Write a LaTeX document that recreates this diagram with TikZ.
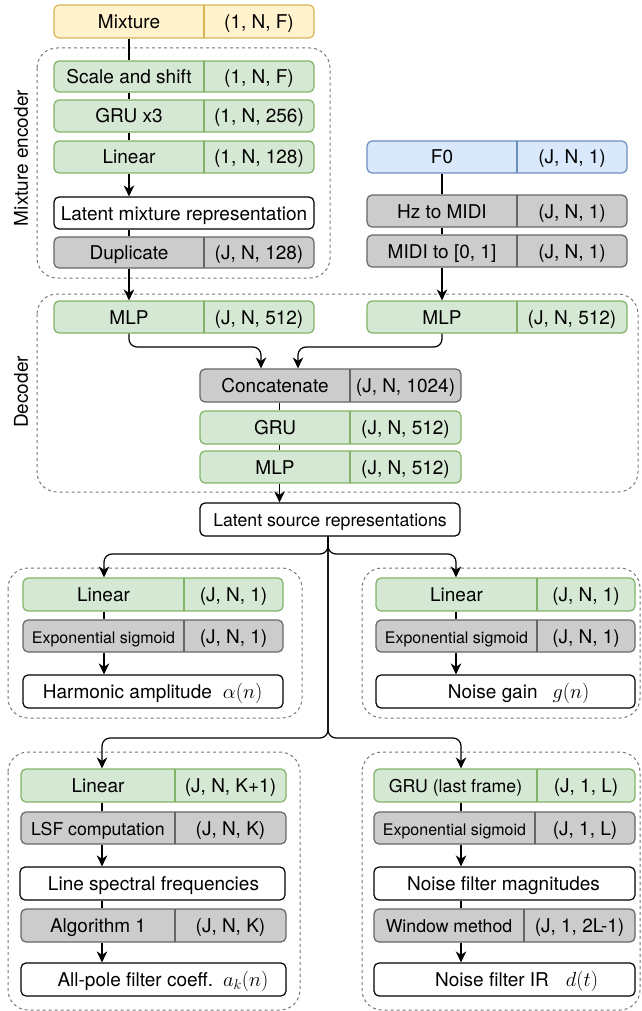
\RequirePackage{fix-cm}
\documentclass[tikz,border=0pt]{standalone}
\usepackage{fontspec}
\setmainfont{TeX Gyre Heros}
\usetikzlibrary{arrows.meta}
\definecolor{gline}{HTML}{82B366}
\definecolor{gfill}{HTML}{D5E8D4}
\definecolor{yline}{HTML}{D6B656}
\definecolor{yfill}{HTML}{FFF2CC}
\definecolor{bline}{HTML}{6C8EBF}
\definecolor{bfill}{HTML}{DAE8FC}
\definecolor{kline}{HTML}{666666}
\definecolor{kfill}{HTML}{CCCCCC}
\definecolor{wline}{HTML}{000000}
\definecolor{wfill}{HTML}{FFFFFF}
\definecolor{dgray}{HTML}{777777}
\newcommand{\fmain}{\fontsize{19}{22}\selectfont}
\newcommand{\fmid}{\fontsize{17.7}{21}\selectfont}
\newcommand{\fsmall}{\fontsize{16}{19}\selectfont}
\newcommand{\mth}[1]{{\fontsize{20.5}{24}\selectfont$#1$}}
% #1 name, #2 colour prefix, #3 x1, #4 xdiv, #5 x2, #6 y1, #7 y2, #8 left text, #9 right text
\newcommand{\splitbox}[9]{%
  \node[cell, draw=#2line, fill=#2fill, minimum width={#5-#3}, minimum height={#7-#6}] (#1) at ({(#3+#5)/2},{(#6+#7)/2}) {};
  \draw[draw=#2line, line width=1.2pt] (#4,#6) -- (#4,#7);
  \node[lbl] (#1-l) at ({(#3+#4)/2},{(#6+#7)/2+7}) {#8};
  \node[lbl] (#1-r) at ({(#4+#5)/2},{(#6+#7)/2+7}) {#9};
}
% #1 name, #2 x1, #3 x2, #4 y1, #5 y2
\newcommand{\onebox}[5]{%
  \node[cell, draw=wline, fill=wfill, minimum width={#3-#2}, minimum height={#5-#4}] (#1) at ({(#2+#3)/2},{(#4+#5)/2}) {};
}
\begin{document}
\begin{tikzpicture}[x=1pt,y=-1pt,
  cell/.style={rectangle, rounded corners=5pt, line width=1.2pt, inner sep=0pt},
  lbl/.style={inner sep=0pt, anchor=base, font=\fmain},
  lblw/.style={inner sep=0pt, anchor=base west, font=\fmain},
  grp/.style={draw=dgray, line width=1pt, dash pattern=on 3pt off 3pt, rounded corners=20pt},
  ln/.style={line width=1.2pt, draw=black},
  arr/.style={ln, -{Stealth[length=11pt,width=10.5pt,inset=3.5pt]}},
  side/.style={rotate=90, font=\fmain, inner sep=0pt}]
\useasboundingbox (0,0) rectangle (641,1011);

% dashed groups
\draw[grp] (37,48) rectangle (330,278);
\draw[grp] (37,294) rectangle (638,492);
\draw[grp] (8,568) rectangle (302,718);
\draw[grp] (362,568) rectangle (640,718);
\draw[grp] (8,752) rectangle (300,1010);
\draw[grp] (362,752) rectangle (640,1010);

\node[side] (encl) at (21,158) {Mixture encoder};
\node[side] (decl) at (21,392) {Decoder};

% mixture encoder
\splitbox{mix}{y}{54}{204}{314}{5}{38}{Mixture}{(1, N, F)}
\splitbox{scale}{g}{54}{204}{314}{61}{92}{Scale and shift}{(1, N, F)}
\splitbox{gruthree}{g}{54}{204}{314}{100}{132}{GRU x3}{(1, N, 256)}
\splitbox{linone}{g}{54}{204}{314}{141}{173}{Linear}{(1, N, 128)}
\onebox{latmix}{54}{314}{197}{229}
\node[lbl] (latmix-t) at (184,220) {Latent mixture representation};
\splitbox{dup}{k}{54}{204}{314}{237}{268}{Duplicate}{(J, N, 128)}

% F0 branch
\splitbox{fzero}{b}{367}{517}{627}{141}{173}{F0}{(J, N, 1)}
\splitbox{hz}{k}{367}{517}{627}{195}{227}{Hz to MIDI}{(J, N, 1)}
\splitbox{midi}{k}{367}{517}{627}{235}{267}{MIDI to [0, 1]}{(J, N, 1)}

% decoder
\splitbox{mlpL}{g}{54}{204}{314}{301}{333}{MLP}{(J, N, 512)}
\splitbox{mlpR}{g}{367}{517}{627}{301}{333}{MLP}{(J, N, 512)}
\splitbox{concat}{k}{200}{350}{461}{369}{402}{Concatenate}{(J, N, 1024)}
\splitbox{grud}{g}{200}{350}{461}{411}{444}{GRU}{(J, N, 512)}
\splitbox{mlpd}{g}{200}{350}{461}{451}{483}{MLP}{(J, N, 512)}
\onebox{latsrc}{200}{460}{503}{536}
\node[lbl, font=\fmid] (latsrc-t) at (330,526.5) {Latent source representations};

% harmonic amplitude
\splitbox{linA}{g}{23}{184}{283}{578}{611}{Linear}{(J, N, 1)}
\splitbox{expA}{k}{23}{184}{283}{620}{652}{{\fsmall Exponential sigmoid}}{(J, N, 1)}
\onebox{harm}{23}{283}{675}{708}
\node[lblw] (harm-t) at (42.7,698.5) {Harmonic amplitude\hspace{11pt}\mth{\alpha(n)}};

% noise gain
\splitbox{linB}{g}{376}{537}{635}{578}{611}{Linear}{(J, N, 1)}
\splitbox{expB}{k}{376}{537}{635}{620}{652}{{\fsmall Exponential sigmoid}}{(J, N, 1)}
\onebox{ngain}{376}{635}{675}{708}
\node[lblw] (ngain-t) at (447.7,698.5) {Noise gain\hspace{15pt}\mth{g(n)}};

% all-pole filter
\splitbox{linC}{g}{21}{175}{286}{769}{802}{Linear}{(J, N, K+1)}
\splitbox{lsf}{k}{21}{175}{286}{812}{844}{{\fmid LSF computation}}{(J, N, K)}
\onebox{lsfs}{20}{285}{867}{900}
\node[lbl] (lsfs-t) at (153.5,890.5) {Line spectral frequencies};
\splitbox{alg}{k}{21}{175}{286}{909}{942}{Algorithm 1}{(J, N, K)}
\onebox{allpole}{21}{286}{963}{996}
\node[lblw] (allpole-t) at (57.3,986.5) {All-pole filter coeff.\hspace{10pt}\mth{a_k(n)}};

% noise filter
\splitbox{gruC}{g}{374}{537}{635}{769}{802}{{\fmid GRU (last frame)}}{(J, 1, L)}
\splitbox{expC}{k}{374}{535}{635}{812}{844}{{\fsmall Exponential sigmoid}}{(J, 1, L)}
\onebox{nfm}{374}{635}{867}{900}
\node[lbl] (nfm-t) at (503.5,890.5) {Noise filter magnitudes};
\splitbox{win}{k}{374}{524}{635}{909}{942}{{\fmid Window method}}{(J, 1, 2L-1)}
\onebox{nfir}{374}{635}{963}{996}
\node[lblw] (nfir-t) at (435,986.5) {Noise filter IR\hspace{17pt}\mth{d(t)}};

% helper coordinates
\coordinate (jL) at (261,347);
\coordinate (jR) at (298,347);
\coordinate (dx) at (279.5,0);
\coordinate (stem) at (328,0);
\coordinate (bA) at (104,554);
\coordinate (bB) at (456,554);
\coordinate (bC) at (102,738);
\coordinate (bD) at (461,738);

% encoder connectors
\draw[ln] (mix.south -| mix-l) -- (scale.north -| mix-l);
\draw[ln] (scale.south -| mix-l) -- (gruthree.north -| mix-l);
\draw[ln] (gruthree.south -| mix-l) -- (linone.north -| mix-l);
\draw[arr] (linone.south -| mix-l) -- (latmix.north -| mix-l);
\draw[ln] (latmix.south -| mix-l) -- (dup.north -| mix-l);
\draw[arr] (dup.south -| mix-l) -- (mlpL.north -| mix-l);

% F0 connectors
\draw[ln] (fzero.south -| fzero-l) -- (hz.north -| fzero-l);
\draw[ln] (hz.south -| fzero-l) -- (midi.north -| fzero-l);
\draw[arr] (midi.south -| fzero-l) -- (mlpR.north -| fzero-l);

% decoder connectors
\draw[arr, rounded corners=8pt] (mlpL.south -| mlpL-l) |- (jL) -- (concat.north -| jL);
\draw[arr, rounded corners=8pt] (mlpR.south -| mlpR-l) |- (jR) -- (concat.north -| jR);
\draw[ln] (concat.south -| dx) -- (grud.north -| dx);
\draw[ln] (grud.south -| dx) -- (mlpd.north -| dx);
\draw[arr] (mlpd.south -| dx) -- (latsrc.north -| dx);

% branches
\draw[arr, rounded corners=8pt] (latsrc.south -| stem) |- (bA) -- (linA.north -| bA);
\draw[arr, rounded corners=8pt] (latsrc.south -| stem) |- (bB) -- (linB.north -| bB);
\draw[arr, rounded corners=8pt] (latsrc.south -| stem) |- (bC) -- (linC.north -| bC);
\draw[arr, rounded corners=8pt] (latsrc.south -| stem) |- (bD) -- (gruC.north -| bD);

% group connectors
\draw[ln] (linA.south -| bA) -- (expA.north -| bA);
\draw[arr] (expA.south -| bA) -- (harm.north -| bA);
\draw[ln] (linB.south -| bB) -- (expB.north -| bB);
\draw[arr] (expB.south -| bB) -- (ngain.north -| bB);
\draw[ln] (linC.south -| bC) -- (lsf.north -| bC);
\draw[arr] (lsf.south -| bC) -- (lsfs.north -| bC);
\draw[ln] (lsfs.south -| bC) -- (alg.north -| bC);
\draw[arr] (alg.south -| bC) -- (allpole.north -| bC);
\draw[ln] (gruC.south -| bD) -- (expC.north -| bD);
\draw[arr] (expC.south -| bD) -- (nfm.north -| bD);
\draw[ln] (nfm.south -| bD) -- (win.north -| bD);
\draw[arr] (win.south -| bD) -- (nfir.north -| bD);
\end{tikzpicture}
\end{document}
